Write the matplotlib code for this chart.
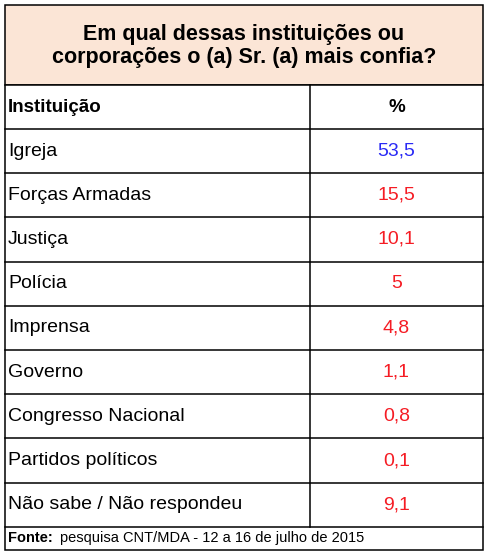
import matplotlib.pyplot as plt
from matplotlib.patches import Rectangle

plt.rcParams['font.family'] = ['Liberation Sans', 'DejaVu Sans']

title = "Em qual dessas instituições ou\ncorporações o (a) Sr. (a) mais confia?"
institutions = ["Igreja", "Forças Armadas", "Justiça", "Polícia", "Imprensa",
                "Governo", "Congresso Nacional", "Partidos políticos",
                "Não sabe / Não respondeu"]
values = ["53,5", "15,5", "10,1", "5", "4,8", "1,1", "0,8", "0,1", "9,1"]
value_colors = ["#2a2af5"] + ["#f51c24"] * 8

fig = plt.figure(figsize=(4.88, 5.56), dpi=100)
ax = fig.add_axes([0, 0, 1, 1])
ax.set_xlim(0, 488)
ax.set_ylim(556, 0)
ax.axis("off")

L, R, mid = 5, 483, 310
top, title_bot, head_bot, rh = 5, 85, 129, 44.2
foot_top = head_bot + rh * len(institutions)
foot_bot = 550
lw = 1.1

ax.add_patch(Rectangle((L, top), R - L, title_bot - top, facecolor="#fbe5d6", edgecolor="black", lw=lw))
ax.text((L + R) / 2, (top + title_bot) / 2 + 1, title, ha="center", va="center",
        fontsize=15.5, fontweight="bold", linespacing=1.1)

ax.add_patch(Rectangle((L, title_bot), R - L, foot_bot - title_bot, facecolor="white", edgecolor="black", lw=lw))
ax.plot([mid, mid], [title_bot, foot_top], color="black", lw=lw)
for y in [head_bot + rh * i for i in range(len(institutions) + 1)]:
    ax.plot([L, R], [y, y], color="black", lw=lw)

ax.text(L + 3, (title_bot + head_bot) / 2, "Instituição", ha="left", va="center", fontsize=13.5, fontweight="bold")
ax.text((mid + R) / 2, (title_bot + head_bot) / 2, "%", ha="center", va="center", fontsize=13.5, fontweight="bold")

for i, (name, val, c) in enumerate(zip(institutions, values, value_colors)):
    yc = head_bot + rh * (i + 0.5)
    ax.text(L + 3, yc, name, ha="left", va="center", fontsize=14)
    ax.text((mid + R) / 2, yc, val, ha="center", va="center", fontsize=14, color=c)

fy = (foot_top + foot_bot) / 2
ax.text(L + 3, fy, "Fonte:", ha="left", va="center", fontsize=10.5, fontweight="bold")
ax.text(L + 55, fy, "pesquisa CNT/MDA - 12 a 16 de julho de 2015",
        ha="left", va="center", fontsize=10.5)

fig.savefig("out.png", dpi=100)
